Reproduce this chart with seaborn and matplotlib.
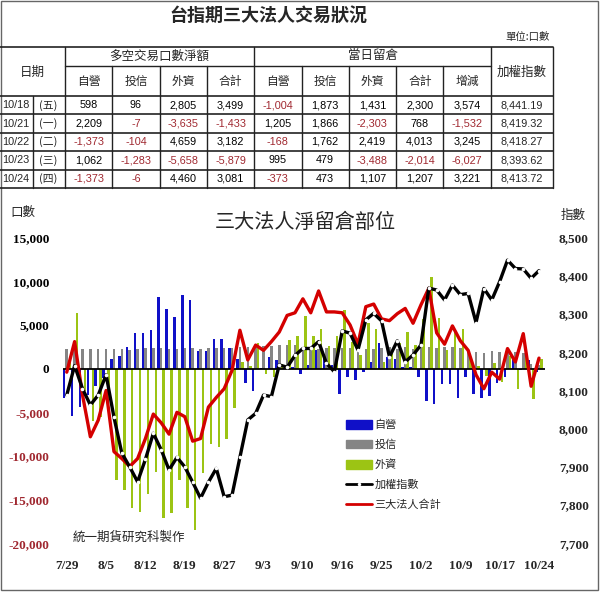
import numpy as np
import pandas as pd
import matplotlib
matplotlib.use("Agg")
import matplotlib.pyplot as plt
import seaborn as sns
from matplotlib.patches import Patch, Rectangle
from matplotlib.lines import Line2D

# ---------------- chart data (net open interest, contracts) ----------------
dates = ["7/29", "7/30", "7/31", "8/1", "8/2", "8/5", "8/6", "8/7", "8/8", "8/9",
         "8/12", "8/13", "8/14", "8/15", "8/16", "8/19", "8/20", "8/22", "8/23", "8/26",
         "8/27", "8/28", "8/29", "8/30", "9/2", "9/3", "9/4", "9/5", "9/6", "9/9",
         "9/10", "9/11", "9/12", "9/13", "9/14", "9/16", "9/17", "9/18", "9/23", "9/24",
         "9/25", "9/26", "9/27", "9/30", "10/1", "10/2", "10/3", "10/4", "10/7", "10/8",
         "10/9", "10/11", "10/14", "10/15", "10/16", "10/17", "10/18", "10/21", "10/22", "10/23",
         "10/24"]
dealer = [-3400, -5400, -4400, -3000, -2000, -1100, 1100, 1500, 2500, 4100,
          4100, 4400, 8200, 6800, 5900, 8400, 7900, 2000, 2000, 3400,
          3400, 2400, 1100, -1600, -2600, 100, 1300, 1000, 100, 200,
          -600, 400, 2100, 1500, 400, -2900, -1000, -1300, -400, 800,
          2900, 1300, 1100, 200, 200, -900, -3700, -4000, -1700, -1800,
          -3400, -1000, -2900, -3400, -3100, -1600, -1004, 1205, -168, 995,
          -373]
trust = [2200, 2200, 2300, 2200, 2200, 2200, 2200, 2200, 2100, 2300,
         2400, 2400, 2400, 2300, 2300, 2400, 2400, 2200, 2400, 2400,
         2400, 2400, 2500, 2500, 2500, 2600, 2600, 2700, 2700, 2700,
         2400, 2300, 2300, 2400, 2400, 2400, 2400, 2500, 2300, 2300,
         2400, 2500, 2300, 2500, 2300, 2500, 2500, 2400, 2500, 2500,
         2400, 1900, 1900, 1800, 2000, 1900, 1873, 1866, 1762, 479,
         473]
foreign = [800, 6400, -2500, -6000, -5500, -3600, -12800, -13900, -15900, -16400,
           -14300, -11800, -17100, -16500, -12800, -16000, -18500, -12000, -8600, -9000,
           -8000, -4500, 800, 300, 2900, -600, -900, 500, 3300, 3700,
           6000, 3700, 4600, 2600, 3700, 6700, 3000, 1600, 5200, 4600,
           800, 1700, 2900, 4200, 2700, 5700, 10500, 5800, 2100, 4200,
           4500, 1200, 300, -800, 700, -1500, 1431, -2303, 2419, -3488,
           1107]
total = [-400, 3100, -3000, -7800, -5900, -2500, -9500, -10300, -11200, -10300,
         -8000, -5200, -6200, -7500, -5000, -5500, -8300, -8000, -4400, -3300,
         -2300, -200, 4400, 1000, 2700, 2100, 3100, 4200, 6100, 6400,
         8000, 6400, 8900, 6500, 6500, 6400, 5000, 2800, 7100, 7400,
         5700, 5500, 6300, 6900, 5200, 7300, 9200, 4100, 2800, 4900,
         3200, 2100, -700, -2300, -400, -1200, 2300, 768, 4013, -2014,
         1207]
taiex = [8088, 8165, 8105, 8062, 8088, 8141, 8030, 7936, 7900, 7861,
         7920, 7988, 7945, 7892, 7925, 7900, 7860, 7818, 7860, 7896,
         7822, 7826, 7925, 8023, 8040, 8088, 8084, 8167, 8161, 8192,
         8210, 8210, 8228, 8171, 8149, 8256, 8250, 8206, 8285, 8302,
         8282, 8188, 8230, 8175, 8193, 8219, 8368, 8363, 8337, 8376,
         8351, 8354, 8278, 8367, 8337, 8385, 8441.19, 8419.32, 8418.27, 8393.62,
         8413.72]
left_ticks = [15000, 10000, 5000, 0, -5000, -10000, -15000, -20000]
right_ticks = [8500, 8400, 8300, 8200, 8100, 8000, 7900, 7800, 7700]
series_names = ["自營", "投信", "外資"]

# ---------------- table data ----------------
t_dates = ["10/18", "10/21", "10/22", "10/23", "10/24"]
t_week = ["(五)", "(一)", "(二)", "(三)", "(四)"]
t_net_dealer = [598, 2209, -1373, 1062, -1373]
t_net_trust = [96, -7, -104, -1283, -6]
t_net_foreign = [2805, -3635, 4659, -5658, 4460]
t_net_total = [3499, -1433, 3182, -5879, 3081]
t_oi_dealer = [-1004, 1205, -168, 995, -373]
t_oi_trust = [1873, 1866, 1762, 479, 473]
t_oi_foreign = [1431, -2303, 2419, -3488, 1107]
t_oi_total = [2300, 768, 4013, -2014, 1207]
t_oi_change = [3574, -1532, 3245, -6027, 3221]
t_index = [8441.19, 8419.32, 8418.27, 8393.62, 8413.72]

BLUE, GREY, GREEN, RED = "#1010c8", "#858585", "#9cc414", "#d40000"
NEG = "#a02830"

sns.set_theme(style="white")
plt.rcParams["font.family"] = ["Noto Sans CJK TC", "DejaVu Sans"]
plt.rcParams["axes.unicode_minus"] = False

W, H = 600, 592
fig = plt.figure(figsize=(6, 5.92), dpi=100)
bg = fig.add_axes([0, 0, 1, 1], zorder=-1)
bg.set_xlim(0, W)
bg.set_ylim(H, 0)
bg.axis("off")
bg.add_patch(Rectangle((0.8, 0.8), 597, 589.5, fill=False, ec="#666666", lw=1))

# ---------------- table ----------------
bg.text(268, 15, "台指期三大法人交易狀況", ha="center", va="center", fontsize=13, fontweight="bold")
bg.text(550, 37, "單位:口數", ha="right", va="center", fontsize=7.5)
lc = "#222222"
row_top, mid, hdr_bot, rh = 47, 66, 96, 18.4
col_x = [65, 112.3, 159.6, 206.9, 254.2, 301.5, 348.8, 396.1, 443.4, 491, 553]
bot = hdr_bot + 5 * rh
for yy in [row_top, hdr_bot]:
    bg.plot([0, 553], [yy, yy], color=lc, lw=1.2)
for k in range(1, 6):
    bg.plot([0, 553], [hdr_bot + k * rh] * 2, color=lc, lw=1.2)
bg.plot([65, 491], [mid, mid], color=lc, lw=1)
for j, xx in enumerate(col_x):
    top = row_top if xx in (65, 254.2, 491, 553) else mid
    bg.plot([xx, xx], [top, bot], color=lc, lw=1)
bg.plot([33, 33], [hdr_bot, bot], color=lc, lw=1)
bg.text(32, 72, "日期", ha="center", va="center", fontsize=9)
bg.text(159.6, 56, "多空交易口數淨額", ha="center", va="center", fontsize=9)
bg.text(372.6, 56, "當日留倉", ha="center", va="center", fontsize=9)
bg.text(522, 72, "加權指數", ha="center", va="center", fontsize=9)
subs = ["自營", "投信", "外資", "合計", "自營", "投信", "外資", "合計", "增減"]
for j, s in enumerate(subs):
    bg.text((col_x[j] + col_x[j + 1]) / 2, 81, s, ha="center", va="center", fontsize=8.5)
cols = [t_net_dealer, t_net_trust, t_net_foreign, t_net_total,
        t_oi_dealer, t_oi_trust, t_oi_foreign, t_oi_total, t_oi_change]
for r in range(5):
    yc = hdr_bot + rh * (r + 0.5)
    bg.text(16, yc, t_dates[r], ha="center", va="center", fontsize=7.8, family="Liberation Sans")
    bg.text(48, yc, t_week[r], ha="center", va="center", fontsize=7.8)
    for j, c in enumerate(cols):
        v = c[r]
        bg.text((col_x[j] + col_x[j + 1]) / 2, yc, f"{v:,}", ha="center", va="center",
                fontsize=7.8, family="Liberation Sans", color=NEG if v < 0 else "black")
    bg.text(522, yc, f"{t_index[r]:,.2f}", ha="center", va="center", fontsize=7.8,
            family="Liberation Sans")

# ---------------- chart ----------------
L, R, B, T = 63.2, 544.9, 543.3, 237.7
ax = fig.add_axes([L / W, (H - B) / H, (R - L) / W, (B - T) / H])
ax.patch.set_alpha(0)
idx = np.arange(len(dates))
n = len(dates)
df = pd.DataFrame({"i": np.tile(idx, 3),
                   "v": dealer + trust + foreign,
                   "s": [series_names[0]] * n + [series_names[1]] * n + [series_names[2]] * n})
sns.barplot(data=df, x="i", y="v", hue="s", hue_order=series_names,
            palette=[BLUE, GREY, GREEN], native_scale=True, width=0.96, dodge=True,
            errorbar=None, legend=False, ax=ax, saturation=1, linewidth=0)
ax.axhline(0, color="black", lw=1.3, zorder=3)
sns.lineplot(x=idx, y=total, ax=ax, color=RED, lw=2.4, zorder=4, sort=False)
ax.set_xlim(-0.45, 60.75)
ax.set_ylim(-20000, 15000)
ax.set_xticks(idx[::5])
ax.set_xticklabels(dates[::5], fontfamily="Liberation Serif", fontsize=9.5, fontweight="bold")
ax.set_yticks(left_ticks)
ax.set_yticklabels([f"{v:,}" for v in left_ticks], fontfamily="Liberation Serif",
                   fontsize=9.5, fontweight="bold")
for lab, v in zip(ax.get_yticklabels(), left_ticks):
    lab.set_color(NEG if v < 0 else "black")
ax.tick_params(axis="both", length=0)
ax.tick_params(axis="y", pad=10)
ax.tick_params(axis="x", pad=12)
ax.set_xlabel("")
ax.set_ylabel("")
for sp in ax.spines.values():
    sp.set_visible(False)

ax2 = ax.twinx()
sns.lineplot(x=idx, y=taiex, ax=ax2, color="black", lw=2.4, marker="o", markersize=2.6,
             markerfacecolor="white", markeredgewidth=0, sort=False)
ax2.set_ylim(7700, 8500)
ax2.set_xlim(-0.45, 60.75)
ax2.set_yticks(right_ticks)
ax2.set_yticklabels([f"{v:,}" for v in right_ticks], fontfamily="Liberation Serif",
                    fontsize=9.5, fontweight="bold")
ax2.tick_params(axis="y", length=0, pad=10)
ax2.set_ylabel("")
for sp in ax2.spines.values():
    sp.set_visible(False)

bg.text(23, 212, "口數", ha="center", va="center", fontsize=9)
bg.text(573, 215, "指數", ha="center", va="center", fontsize=9)
bg.text(305, 222, "三大法人淨留倉部位", ha="center", va="center", fontsize=14.5)
bg.text(129, 537, "統一期貨研究科製作", ha="center", va="center", fontsize=9)

handles = [Patch(color=BLUE), Patch(color=GREY), Patch(color=GREEN),
           Line2D([], [], color="black", lw=2, marker="o", markersize=2.5,
                  markerfacecolor="white", markeredgewidth=0),
           Line2D([], [], color=RED, lw=2)]
labels = series_names + ["加權指數", "三大法人合計"]
ax2.legend(handles, labels, loc="upper left", bbox_to_anchor=(346 / W, (H - 420) / H),
           bbox_transform=fig.transFigure, frameon=False, fontsize=8, handlelength=2.3,
           handleheight=0.75, labelspacing=0.85, handletextpad=0.25, borderaxespad=0,
           borderpad=0, numpoints=1)

fig.savefig("out.png", dpi=100)
